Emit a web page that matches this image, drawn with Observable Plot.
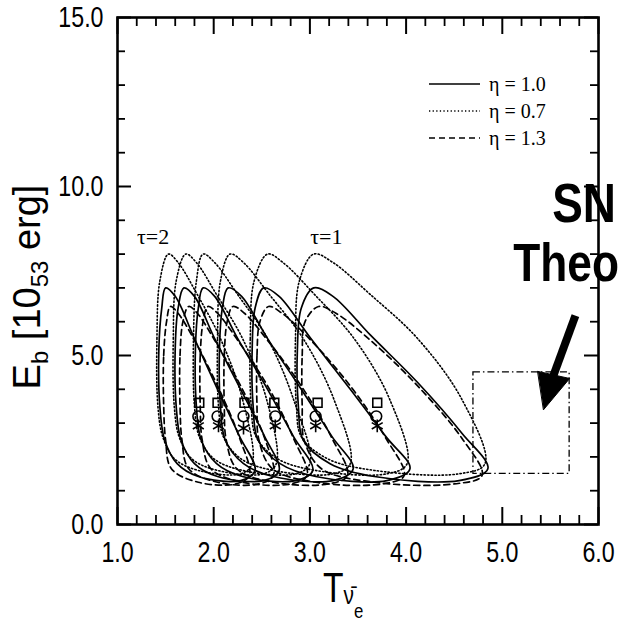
<!DOCTYPE html>
<html>
<head>
<meta charset="utf-8">
<script src="https://cdn.jsdelivr.net/npm/d3@7"></script>
<script src="https://cdn.jsdelivr.net/npm/@observablehq/plot@0.6"></script>
<style>
html,body{margin:0;padding:0;background:#fff;}
#chart{position:relative;width:618px;height:627px;overflow:hidden;background:#fff;}
</style>
</head>
<body>
<div id="chart"></div>
<script>
// ---------------- data ----------------
const etaLabels = ["η = 1.0", "η = 0.7", "η = 1.3"];
const tauLabels = ["τ=2", "τ=1"];
const tauLabelX = [1.37, 3.17];
const tauLabelY = [8.5, 8.5];

// contour outlines, one list of [T, Eb] points per contour, 6 contours per eta
const contourEta10 = [
  [[1.44,3.5],[1.43,5.2],[1.46,6.4],[1.50,7.0],[1.60,6.75],[1.80,5.5],[2.04,4.0],[2.27,2.6],[2.43,1.6],[2.28,1.3],[1.84,1.42],[1.62,1.8],[1.49,2.5]],
  [[1.61,3.5],[1.60,5.2],[1.63,6.4],[1.69,7.0],[1.80,6.75],[2.01,5.5],[2.28,4.0],[2.53,2.6],[2.68,1.6],[2.52,1.3],[2.04,1.42],[1.80,1.8],[1.66,2.5]],
  [[1.82,3.5],[1.81,5.2],[1.84,6.4],[1.89,7.0],[2.01,6.75],[2.25,5.5],[2.56,4.0],[2.83,2.6],[3.03,1.6],[2.85,1.3],[2.30,1.42],[2.03,1.8],[1.87,2.5]],
  [[2.07,3.5],[2.06,5.2],[2.09,6.4],[2.15,7.0],[2.29,6.75],[2.56,5.5],[2.91,4.0],[3.23,2.6],[3.45,1.65],[3.24,1.3],[2.62,1.42],[2.31,1.8],[2.12,2.5]],
  [[2.41,3.5],[2.40,5.2],[2.43,6.4],[2.52,7.0],[2.68,6.75],[3.01,5.5],[3.42,4.0],[3.79,2.6],[4.04,1.65],[3.80,1.3],[3.06,1.42],[2.69,1.8],[2.46,2.5]],
  [[2.88,3.5],[2.87,5.2],[2.91,6.4],[3.04,7.0],[3.24,6.75],[3.63,5.6],[4.12,4.2],[4.58,2.7],[4.85,1.65],[4.55,1.3],[3.67,1.42],[3.21,1.8],[2.93,2.5]]
];
const contourEta07 = [
  [[1.42,3.5],[1.41,5.5],[1.44,7.2],[1.53,8.0],[1.63,7.75],[1.83,6.8],[2.07,5.5],[2.30,3.7],[2.40,1.8],[2.28,1.5],[1.84,1.6],[1.59,1.95],[1.47,2.6]],
  [[1.59,3.5],[1.58,5.5],[1.61,7.2],[1.71,8.0],[1.82,7.75],[2.03,6.8],[2.30,5.5],[2.55,3.7],[2.65,1.8],[2.52,1.5],[2.04,1.6],[1.77,1.95],[1.64,2.6]],
  [[1.80,3.5],[1.79,5.5],[1.82,7.2],[1.89,8.0],[2.01,7.75],[2.25,6.8],[2.56,5.5],[2.83,3.7],[3.00,1.8],[2.85,1.5],[2.30,1.6],[2.00,1.95],[1.85,2.6]],
  [[2.05,3.5],[2.04,5.5],[2.07,7.2],[2.17,8.0],[2.31,7.75],[2.58,6.8],[2.93,5.5],[3.25,3.7],[3.42,1.8],[3.24,1.5],[2.62,1.6],[2.28,1.95],[2.10,2.6]],
  [[2.39,3.5],[2.38,5.5],[2.42,7.2],[2.56,8.0],[2.72,7.75],[3.05,6.8],[3.46,5.5],[3.83,3.7],[4.01,1.8],[3.80,1.5],[3.06,1.6],[2.66,1.95],[2.44,2.6]],
  [[2.86,3.5],[2.85,5.5],[2.89,7.2],[3.04,8.0],[3.24,7.75],[3.63,6.8],[4.12,5.5],[4.58,3.7],[4.82,1.8],[4.55,1.5],[3.67,1.6],[3.18,1.95],[2.91,2.6]]
];
const contourEta13 = [
  [[1.48,3.5],[1.48,5.0],[1.51,6.0],[1.55,6.45],[1.63,6.25],[1.80,5.45],[2.04,4.1],[2.27,2.55],[2.37,1.45],[2.23,1.2],[1.84,1.25],[1.56,1.65],[1.50,2.5]],
  [[1.65,3.5],[1.65,5.0],[1.68,6.0],[1.74,6.45],[1.83,6.25],[2.01,5.45],[2.28,4.1],[2.53,2.55],[2.62,1.45],[2.47,1.2],[2.04,1.25],[1.74,1.65],[1.67,2.5]],
  [[1.86,3.5],[1.86,5.0],[1.89,6.0],[1.94,6.45],[2.04,6.25],[2.25,5.45],[2.56,4.1],[2.83,2.55],[2.97,1.45],[2.80,1.2],[2.30,1.25],[1.97,1.65],[1.88,2.5]],
  [[2.11,3.5],[2.11,5.0],[2.14,6.0],[2.20,6.45],[2.32,6.25],[2.56,5.45],[2.91,4.1],[3.23,2.55],[3.39,1.45],[3.19,1.2],[2.62,1.25],[2.24,1.65],[2.13,2.5]],
  [[2.45,3.5],[2.45,5.0],[2.48,6.0],[2.57,6.45],[2.71,6.25],[3.01,5.45],[3.42,4.1],[3.79,2.55],[3.98,1.45],[3.75,1.2],[3.06,1.25],[2.61,1.65],[2.47,2.5]],
  [[2.92,3.5],[2.92,5.0],[2.95,6.0],[3.09,6.45],[3.27,6.25],[3.63,5.45],[4.12,4.1],[4.58,2.55],[4.79,1.45],[4.50,1.2],[3.67,1.25],[3.12,1.65],[2.94,2.5]]
];

// best-fit markers
const squareX = [1.85, 2.04, 2.32, 2.63, 3.08, 3.70];
const squareY = [3.6, 3.6, 3.6, 3.6, 3.6, 3.6];
const circleX = [1.84, 2.04, 2.31, 2.64, 3.06, 3.69];
const circleY = [3.2, 3.2, 3.2, 3.2, 3.2, 3.2];
const starX   = [1.84, 2.05, 2.31, 2.64, 3.06, 3.70];
const starY   = [2.92, 2.92, 2.85, 2.92, 2.92, 2.92];

// theoretical SN box and arrow
const snBoxT = [4.7, 5.7];
const snBoxE = [1.5, 4.5];
const arrowShaftT = [5.76, 5.53];
const arrowShaftE = [6.18, 4.40];
const arrowHeadT = [5.37, 5.70, 5.43];
const arrowHeadE = [4.53, 4.32, 3.40];
const snLabels = ["SN", "Theo"];

// axes
const xTicks = [1, 2, 3, 4, 5, 6];
const xTickLabels = ["1.0", "2.0", "3.0", "4.0", "5.0", "6.0"];
const yTicks = [0, 5, 10, 15];
const yTickLabels = ["0.0", "5.0", "10.0", "15.0"];
const xMinor = [1.2,1.4,1.6,1.8,2.2,2.4,2.6,2.8,3.2,3.4,3.6,3.8,4.2,4.4,4.6,4.8,5.2,5.4,5.6,5.8];
const yMinor = [1,2,3,4,6,7,8,9,11,12,13,14];

// ---------------- build ----------------
const W = 618, H = 627, mL = 117, mR = 20, mT = 17, mB = 103;
const pw = W - mL - mR, ph = H - mT - mB;
const sans = "'Liberation Sans',Arial,sans-serif";
const serif = "'Liberation Serif','DejaVu Serif',serif";

function rowsOf(set, eta) {
  const out = [];
  set.forEach((pts, i) => pts.forEach(([x, y]) => out.push({eta, tau: i, x, y})));
  return out;
}
const rows10 = rowsOf(contourEta10, etaLabels[0]);
const rows07 = rowsOf(contourEta07, etaLabels[1]);
const rows13 = rowsOf(contourEta13, etaLabels[2]);

const squares = squareX.map((x, i) => ({x, y: squareY[i]}));
const circles = circleX.map((x, i) => ({x, y: circleY[i]}));
const stars = starX.map((x, i) => ({x, y: starY[i]}));
const box = [{x1: snBoxT[0], x2: snBoxT[1], y1: snBoxE[0], y2: snBoxE[1]}];
const shaft = [{x1: arrowShaftT[0], y1: arrowShaftE[0], x2: arrowShaftT[1], y2: arrowShaftE[1]}];
const head = arrowHeadT.map((x, i) => ({x, y: arrowHeadE[i]}));
const tauText = tauLabels.map((t, i) => ({t, x: tauLabelX[i], y: tauLabelY[i]}));

const plot = Plot.plot({
  width: W, height: H,
  marginLeft: mL, marginRight: mR, marginTop: mT, marginBottom: mB,
  x: {domain: [1, 6]},
  y: {domain: [0, 15]},
  style: {background: "white", fontFamily: sans, overflow: "visible", color: "black"},
  marks: [
    Plot.line(rows07, {x: "x", y: "y", z: "tau", curve: "catmull-rom-closed", stroke: "black", strokeWidth: 1.6, strokeDasharray: "1.3,2.3"}),
    Plot.line(rows13, {x: "x", y: "y", z: "tau", curve: "catmull-rom-closed", stroke: "black", strokeWidth: 1.7, strokeDasharray: "6,4"}),
    Plot.line(rows10, {x: "x", y: "y", z: "tau", curve: "catmull-rom-closed", stroke: "black", strokeWidth: 1.7}),
    Plot.rect(box, {x1: "x1", x2: "x2", y1: "y1", y2: "y2", fill: "none", stroke: "black", strokeWidth: 1.3, strokeDasharray: "7,3,1.5,3"}),
    Plot.link(shaft, {x1: "x1", y1: "y1", x2: "x2", y2: "y2", stroke: "black", strokeWidth: 8}),
    Plot.line(head, {x: "x", y: "y", curve: "linear-closed", fill: "black", stroke: "black", strokeWidth: 1}),
    Plot.dot(squares, {x: "x", y: "y", symbol: "square", r: 5, stroke: "black", fill: "none", strokeWidth: 1.6}),
    Plot.dot(circles, {x: "x", y: "y", symbol: "circle", r: 5.4, stroke: "black", fill: "none", strokeWidth: 1.6}),
    Plot.dot(stars, {x: "x", y: "y", symbol: "asterisk", r: 6, stroke: "black", strokeWidth: 1.6}),
    Plot.text(tauText, {x: "x", y: "y", text: "t", fontFamily: serif, fontSize: 22, fill: "black"}),
    // inward ticks
    Plot.ruleX(xTicks, {insetTop: ph - 17, stroke: "black", strokeWidth: 2}),
    Plot.ruleX(xMinor, {insetTop: ph - 9, stroke: "black", strokeWidth: 1.8}),
    Plot.ruleX(xTicks, {insetBottom: ph - 17, stroke: "black", strokeWidth: 2}),
    Plot.ruleX(xMinor, {insetBottom: ph - 9, stroke: "black", strokeWidth: 1.8}),
    Plot.ruleY(yTicks, {insetRight: pw - 14, stroke: "black", strokeWidth: 2}),
    Plot.ruleY(yMinor, {insetRight: pw - 8, stroke: "black", strokeWidth: 1.8}),
    Plot.ruleY(yTicks, {insetLeft: pw - 14, stroke: "black", strokeWidth: 2}),
    Plot.ruleY(yMinor, {insetLeft: pw - 8, stroke: "black", strokeWidth: 1.8}),
    Plot.axisX(xTicks, {tickSize: 0, tickPadding: 17, fontSize: 29, fontFamily: sans, label: null, tickFormat: d => xTickLabels[xTicks.indexOf(d)]}),
    Plot.axisY(yTicks, {tickSize: 0, tickPadding: 14, fontSize: 29, fontFamily: sans, label: null, tickFormat: d => yTickLabels[yTicks.indexOf(d)]}),
    Plot.frame({stroke: "black", strokeWidth: 2.6})
  ]
});
document.getElementById("chart").appendChild(plot);

const svg = d3.select(plot);

// condense tick label glyphs (the reference uses a condensed Helvetica)
svg.selectAll("text").each(function() {
  const g = this.parentNode;
  const lab = g && g.getAttribute && (g.getAttribute("aria-label") || "");
  if (lab.includes("tick label")) {
    const t = this.getAttribute("transform") || "";
    this.setAttribute("transform", t + " scale(0.8,1)");
  }
});

// y title
const yt = svg.append("text")
  .attr("transform", "translate(40,287) rotate(-90)")
  .attr("text-anchor", "middle")
  .attr("fill", "black")
  .style("font-family", sans)
  .style("font-size", "38px");
yt.append("tspan").text("E");
yt.append("tspan").attr("dy", 8).style("font-size", "24px").text("b");
yt.append("tspan").attr("dy", -8).text(" [10");
yt.append("tspan").attr("dy", 8).style("font-size", "24px").text("53");
yt.append("tspan").attr("dy", -8).text(" erg]");

// x title
const xt = svg.append("text")
  .attr("transform", "translate(323,602) scale(0.8,1)")
  .attr("text-anchor", "start")
  .attr("fill", "black")
  .style("font-family", sans)
  .style("font-size", "42px");
xt.append("tspan").text("T");
xt.append("tspan").attr("dy", 2).style("font-size", "26px").text("ν\u0304");
xt.append("tspan").attr("dy", 14).style("font-size", "21px").text("e");

// legend
const leg = svg.append("g");
const legY = [84, 111, 138];
const legDash = [null, "1.3,2.3", "6,4"];
etaLabels.forEach((lab, i) => {
  leg.append("line").attr("x1", 429).attr("x2", 480).attr("y1", legY[i]).attr("y2", legY[i])
    .attr("stroke", "black").attr("stroke-width", 1.6)
    .attr("stroke-dasharray", legDash[i]);
  leg.append("text").attr("x", 489).attr("y", legY[i] + 7).attr("fill", "black")
    .attr("text-anchor", "start")
    .style("font-family", serif).style("font-size", "20px").text(lab);
});

// SN / Theo annotation
svg.append("text").attr("transform", "translate(616,222) scale(0.82,1)").attr("text-anchor", "end").attr("fill", "black")
  .style("font-family", sans).style("font-weight", "bold").style("font-size", "56px").text(snLabels[0]);
svg.append("text").attr("transform", "translate(619,281) scale(0.82,1)").attr("text-anchor", "end").attr("fill", "black")
  .style("font-family", sans).style("font-weight", "bold").style("font-size", "54px").text(snLabels[1]);
</script>
</body>
</html>
